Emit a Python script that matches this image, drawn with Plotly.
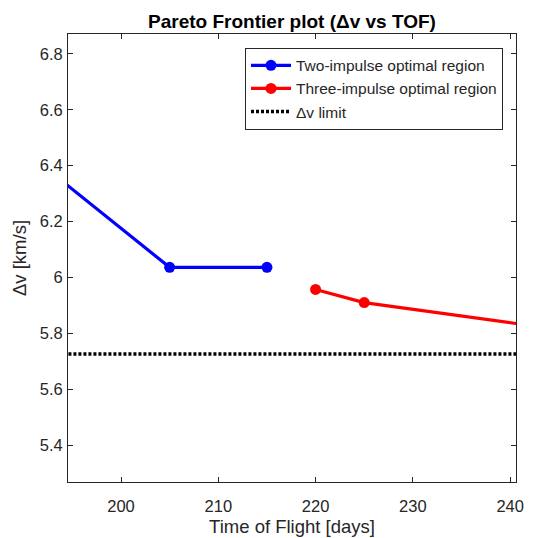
import plotly.graph_objects as go

# Data
tof_two = [185, 205, 215]
dv_two = [6.595, 6.036, 6.036]
tof_three = [220, 225, 250]
dv_three = [5.957, 5.910, 5.790]
dv_limit = 5.726
x_range = [194.55, 240.6]
y_range = [5.268, 6.871]
x_ticks = [200, 210, 220, 230, 240]
y_ticks = [5.4, 5.6, 5.8, 6.0, 6.2, 6.4, 6.6, 6.8]
y_ticklabels = ["5.4", "5.6", "5.8", "6", "6.2", "6.4", "6.6", "6.8"]

font_family = "Arial, Liberation Sans, Helvetica, sans-serif"
fig = go.Figure()

fig.add_trace(go.Scatter(
    x=tof_two, y=dv_two, mode="lines+markers",
    name="Two-impulse optimal region",
    line=dict(color="#0000ff", width=3.2),
    marker=dict(color="#0000ff", size=11),
))
fig.add_trace(go.Scatter(
    x=tof_three, y=dv_three, mode="lines+markers",
    name="Three-impulse optimal region",
    line=dict(color="#ff0000", width=3.2),
    marker=dict(color="#ff0000", size=11),
))
fig.add_trace(go.Scatter(
    x=[x_range[0] - 20, x_range[1] + 20], y=[dv_limit, dv_limit], mode="lines",
    name="\u0394v limit",
    line=dict(color="black", width=3.5, dash="3px,2px"),
))

axis_common = dict(
    showgrid=False, zeroline=False, automargin=False,
    showline=True, linecolor="#262626", linewidth=1, mirror="ticks",
    ticks="inside", ticklen=5, tickcolor="#262626",
    tickfont=dict(family=font_family, size=16.5, color="#262626"),
)

fig.update_layout(
    width=536, height=538,
    margin=dict(l=68, r=20, t=34, b=56),
    paper_bgcolor="white", plot_bgcolor="white",
    font=dict(family=font_family, color="#262626"),
    title=dict(text="<b>Pareto Frontier plot (\u0394v vs TOF)</b>",
               x=0.5, xanchor="center", xref="paper",
               y=1 - 21 / 538, yanchor="middle", yref="container",
               font=dict(family=font_family, size=19, color="black")),
    xaxis=dict(range=x_range, tickvals=x_ticks, ticklabelstandoff=9,
               title=dict(text="Time of Flight [days]", font=dict(size=18.5, family=font_family, color="#262626"), standoff=6),
               **axis_common),
    yaxis=dict(range=y_range, tickvals=y_ticks, ticktext=y_ticklabels, ticklabelstandoff=1,
               title=dict(text="\u0394v [km/s]", font=dict(size=18.5, family=font_family, color="#262626"), standoff=8),
               **axis_common),
    legend=dict(x=(503 - 68) / 448, xanchor="right", y=1 - (47.7 - 34) / 448, yanchor="top",
                bgcolor="white", bordercolor="#262626", borderwidth=1,
                font=dict(family=font_family, size=15.5, color="#262626"),
                itemwidth=40, tracegroupgap=0),
    showlegend=True,
)

fig.write_html("out.html")
